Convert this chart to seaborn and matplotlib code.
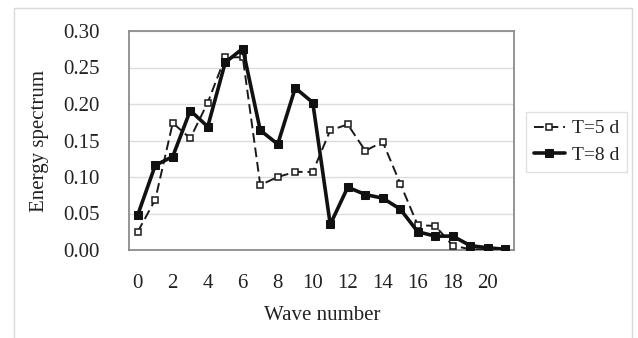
import matplotlib
matplotlib.use("Agg")
import matplotlib.pyplot as plt
import matplotlib.patches as mpatches
import numpy as np
import pandas as pd
import seaborn as sns

wave_number = list(range(22))
t5_values = [0.025, 0.069, 0.174, 0.153, 0.202, 0.264, 0.264, 0.089, 0.100, 0.107, 0.107,
             0.164, 0.172, 0.136, 0.148, 0.091, 0.034, 0.033, 0.006, 0.001, 0.001, 0.001]
t8_values = [0.048, 0.116, 0.128, 0.191, 0.169, 0.257, 0.276, 0.164, 0.145, 0.222, 0.202,
             0.035, 0.086, 0.076, 0.071, 0.056, 0.025, 0.019, 0.019, 0.006, 0.003, 0.001]
series_labels = ["T=5 d", "T=8 d"]
x_tick_labels = [str(v) for v in range(0, 21, 2)]
y_ticks = [0.00, 0.05, 0.10, 0.15, 0.20, 0.25, 0.30]

df = pd.DataFrame({
    "wave": wave_number * 2,
    "value": t5_values + t8_values,
    "series": [series_labels[0]] * 22 + [series_labels[1]] * 22,
})

sns.set_style("white")
plt.rcParams["font.family"] = ["Liberation Serif", "DejaVu Serif"]

W, H = 638, 338
fig = plt.figure(figsize=(W / 100, H / 100), dpi=100)
fig.patch.set_facecolor("white")

# outer chart frame
fig.add_artist(mpatches.Rectangle((14 / W, 1 - 346 / H), (632 - 14) / W, (346 - 8) / H,
                                  transform=fig.transFigure, fill=False,
                                  edgecolor="#d9d9d9", linewidth=1.0, clip_on=False))

L, R, T, B = 129, 514, 31, 250
ax = fig.add_axes([L / W, 1 - B / H, (R - L) / W, (B - T) / H])

d5 = df[df["series"] == series_labels[0]]
d8 = df[df["series"] == series_labels[1]]
sns.lineplot(data=d5, x="wave", y="value", ax=ax, color="#1a1a1a", linewidth=1.4,
             marker="s", markersize=4.6, markerfacecolor="white",
             markeredgecolor="#1a1a1a", markeredgewidth=1.1, label=series_labels[0],
             zorder=3)
ax.lines[-1].set_dashes((5, 2.5))
sns.lineplot(data=d8, x="wave", y="value", ax=ax, color="#111111", linewidth=2.6,
             marker="s", markersize=5.2, markerfacecolor="#111111",
             markeredgecolor="#111111", label=series_labels[1], zorder=4)

ax.set_xlim(-0.5, 21.5)
ax.set_ylim(0, 0.30)
ax.set_yticks(y_ticks)
ax.set_yticklabels([f"{v:.2f}" for v in y_ticks])
ax.set_xticks(list(range(0, 21, 2)))
ax.set_xticklabels(x_tick_labels)
ax.set_xticks(np.arange(-0.5, 21.6, 1.0), minor=True)
ax.tick_params(axis="x", which="major", length=0, pad=17, labelsize=15, colors="#222222")
ax.tick_params(axis="x", which="minor", direction="in", length=4.5, width=0.8,
               color="#d0d0d0")
ax.tick_params(axis="y", which="major", length=0, pad=21, labelsize=15, colors="#222222")
ax.grid(axis="y", color="#dcdcdc", linewidth=1.0)
ax.grid(axis="x", visible=False)
ax.set_axisbelow(True)
for sp in ax.spines.values():
    sp.set_color("#8c8c8c")
    sp.set_linewidth(1.3)
ax.set_xlabel("")
ax.set_ylabel("")

fig.text(40 / W, 1 - 141 / H, "Energy spectrum", rotation=90, ha="center", va="center",
         fontsize=15, color="#222222")
fig.text(322 / W, 1 - 316 / H, "Wave number", ha="center", va="center",
         fontsize=15, color="#222222")

leg = ax.legend(loc="upper left", bbox_to_anchor=(526 / W, 1 - 112 / H),
                bbox_transform=fig.transFigure, borderaxespad=0, fontsize=14,
                frameon=True, fancybox=False, edgecolor="#d9d9d9",
                handlelength=1.6, handletextpad=0.36, labelspacing=0.45,
                borderpad=0.4, numpoints=1)
leg.get_frame().set_linewidth(1.0)
for t in leg.get_texts():
    t.set_color("#222222")

fig.savefig("out.png", dpi=100)
